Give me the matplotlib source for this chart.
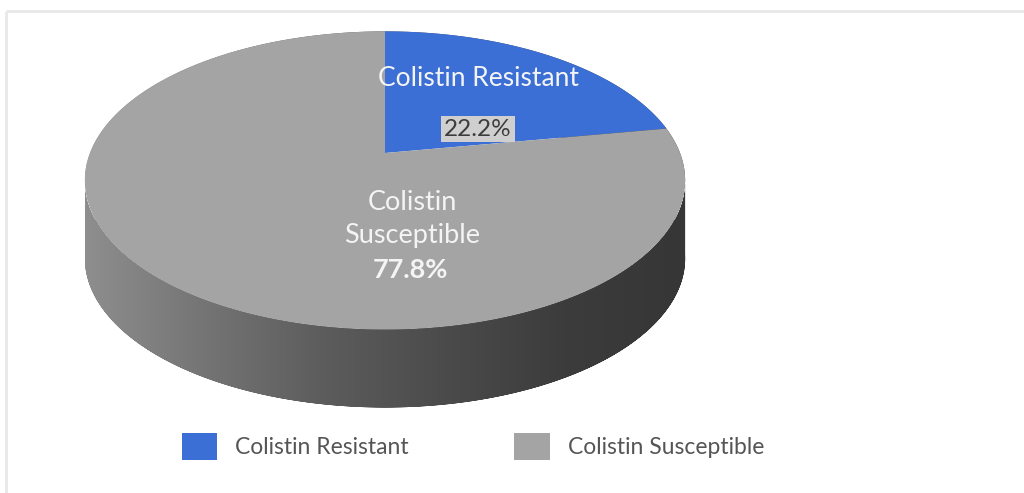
import numpy as np
import matplotlib
matplotlib.use('Agg')
import matplotlib.pyplot as plt
from matplotlib.patches import Polygon, Patch
from matplotlib.colors import LinearSegmentedColormap

# colistin susceptibility of the isolates (%)
categories = ["Colistin Resistant", "Colistin Susceptible"]
shares = [22.2, 77.8]
slice_colors = ["#3b6fd6", "#a4a4a4"]

# disc geometry in pixel space (centre, radii, perspective, thickness)
CX, CY = 385, 153
RX, RY = 295, 144
PERSP = 0.184
DEPTH = 78


def rim(theta):
    u, v = np.cos(theta), np.sin(theta)
    d = 1 + PERSP * v
    return CX + RX * u / d, CY - RY * v / d


plt.rcParams['font.family'] = ['Lato', 'DejaVu Sans']

fig = plt.figure(figsize=(10.24, 4.93), dpi=100)
ax = fig.add_axes([0, 0, 1, 1])
ax.set_xlim(0, 1024)
ax.set_ylim(493, 0)
ax.axis('off')

# side of the disc: front arc between the two silhouette points
t = np.linspace(0, 2 * np.pi, 2000, endpoint=False)
rx, ry = rim(t)
i_left, i_right = np.argmin(rx), np.argmax(rx)
front = np.r_[np.arange(i_left, len(t)), np.arange(0, i_right + 1)]
fx, fy = rx[front], ry[front]
side_pts = np.column_stack([np.r_[fx, fx[::-1]], np.r_[fy, fy[::-1] + DEPTH]])
side = Polygon(side_pts, closed=True, facecolor='none', edgecolor='none')
ax.add_patch(side)
side_cmap = LinearSegmentedColormap.from_list(
    'side', ['#8e8e8e', '#747474', '#5c5c5c', '#4b4b4b', '#3c3c3c', '#363636'])
grad = ax.imshow(np.linspace(0, 1, 256)[None, :], cmap=side_cmap, aspect='auto',
                 extent=(rx.min(), rx.max(), ry.max() + DEPTH + 2, ry.min()),
                 zorder=1)
grad.set_clip_path(side)

# top face wedges, clockwise from 12 o'clock
edges = 90 - 360 * np.r_[0, np.cumsum(shares)] / np.sum(shares)
for k in range(len(shares)):
    th = np.radians(np.linspace(edges[k], edges[k + 1], 400))
    wx, wy = rim(th)
    pts = np.column_stack([np.r_[CX, wx], np.r_[CY, wy]])
    ax.add_patch(Polygon(pts, closed=True, facecolor=slice_colors[k],
                         edgecolor='none', zorder=2))

ax.set_xlim(0, 1024)
ax.set_ylim(493, 0)

# slice labels
ax.text(478, 78, categories[0], ha='center', va='center', fontsize=19,
        color='#f4f4f4', zorder=3)
ax.text(478, 129, f"{shares[0]:.1f}%", ha='center', va='center', fontsize=17.5,
        color='#3c3c3c', zorder=3,
        bbox=dict(boxstyle='square,pad=0.12', facecolor='#cfcfcf', edgecolor='none'))
ax.text(412, 219, "Colistin\nSusceptible", ha='center', va='center', fontsize=19.5,
        color='#f4f4f4', linespacing=1.45, zorder=3)
ax.text(410, 270, f"{shares[1]:.1f}%", ha='center', va='center', fontsize=19.5,
        fontweight='bold', color='#f4f4f4', zorder=3)

# frame lines
ax.plot([6, 6], [493, 11], color='#e8e8e8', lw=2, solid_capstyle='butt')
ax.plot([6, 1024], [11, 11], color='#e8e8e8', lw=2, solid_capstyle='butt')

handles = [Patch(facecolor=c, edgecolor='none') for c in slice_colors]
ax.legend(handles, categories, loc='center', bbox_to_anchor=(0.462, 0.095),
          ncol=2, frameon=False, fontsize=16.5, labelcolor='#555555',
          handlelength=1.55, handleheight=1.45, handletextpad=0.8,
          columnspacing=4.6)

fig.savefig('out.png', dpi=100)
